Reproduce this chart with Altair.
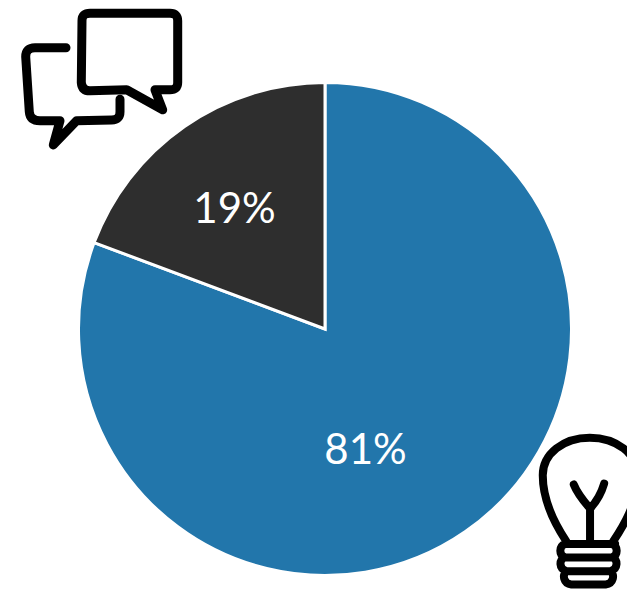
import altair as alt
import pandas as pd

categories = ["Ideas", "Discussion"]
shares = [80.7, 19.3]
labels = ["81%", "19%"]
colors = ["#2276AB", "#2E2E2E"]

# Hand-drawn icons, as SVG paths (page pixels)
chat_big = ("M90 10.7 L170 10.7 Q177.7 10.7 177.7 18.3 L177.7 80 Q177.7 87.3 170 87.3 L155 87.3 "
            "L162.7 107.3 L126.7 87.3 L90 88.3 Q82 88.3 81.3 80 L82 18.3 Q82 10.7 90 10.7 Z")
chat_small = ("M66 47.7 L35 47.7 Q25.7 47.7 25.7 56.7 L29.3 111.7 Q30 120.7 40 120.7 L60 120.7 "
              "L53.3 145 L76.7 120.7 L111.7 120 Q120 120 120 111.7 L120 99.3")
bulb = ("M568 548 C558 533 543 508 543 478 C543 455 565 438 593 438 C621 438 644 455 644 478 "
        "C644 508 628 533 618 548 "
        "M566.7 551 L620 551 "
        "M566.7 551 C560 553.3 560 563.3 566.7 565.3 C560 566.7 560 578.3 568.3 580 "
        "C563.3 583.3 565 593.3 573.3 594 L610 594 C618.3 593.3 620 583.3 615 580 "
        "C623.3 578.3 623.3 566.7 616.7 565.3 C623.3 563.3 623.3 553.3 616.7 551 "
        "M566.7 565.3 L616.7 565.3 M568.3 580 L615 580 "
        "M576 487.7 C580 498 587 506 593.3 513.3 C600 506 605 498 608.3 486.7 "
        "M593.3 513.3 L593.3 548")

df = pd.DataFrame({"category": categories, "share": shares, "order": [0, 1]})

pie = (
    alt.Chart(df)
    .mark_arc(outerRadius=246.5, stroke="white", strokeWidth=3)
    .encode(
        theta=alt.Theta("share:Q", stack=True),
        order=alt.Order("order:Q"),
        color=alt.Color("category:N", scale=alt.Scale(domain=categories, range=colors), legend=None),
        x=alt.value(317),
        y=alt.value(321),
    )
)

def label(text, x, y):
    return (
        alt.Chart(pd.DataFrame({"t": [text]}))
        .mark_text(font="Lato", fontSize=42, color="white", align="center", baseline="middle")
        .encode(text="t:N", x=alt.value(x), y=alt.value(y))
    )

def icon(path, name, x, y, scale=1.0, width=9):
    return (
        alt.Chart(pd.DataFrame({"icon": [name]}))
        .mark_point(shape=path, size=4 * scale ** 2, filled=False, opacity=1, stroke="black",
                    strokeWidth=width, strokeCap="round", strokeJoin="round")
        .encode(x=alt.value(x), y=alt.value(y))
    )

chart = (
    alt.layer(
        pie,
        label(labels[0], 357.5, 443),
        label(labels[1], 226.5, 201.5),
        icon(chat_big, "chat", -8, -5.5),
        icon(chat_small, "chat2", -8, -8),
        icon(bulb, "bulb", 24.34, 18.04, 0.94, 8),
    )
    .properties(width=619, height=582, padding=0, autosize=alt.AutoSizeParams(type="none"))
    .configure_view(stroke=None)
)

chart.save("out.html", embed_options={"renderer": "svg", "actions": False})
